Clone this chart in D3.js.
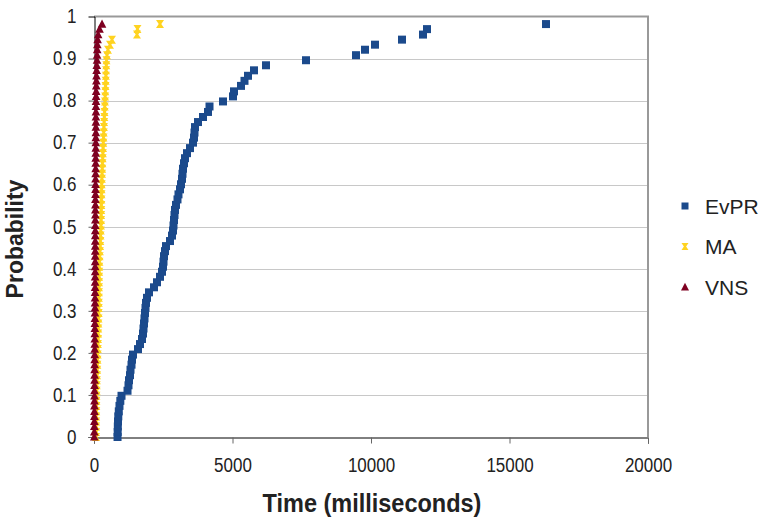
<!DOCTYPE html>
<html>
<head>
<meta charset="utf-8">
<script src="https://cdn.jsdelivr.net/npm/d3@7"></script>
<style>
  body { margin: 0; background: #fff; }
  text { font-family: 'Liberation Sans', Arial, sans-serif; fill: #222; }
</style>
</head>
<body>
<svg></svg>
<script>
// 누적 확률 (세 시리즈 공통)
const probs = [
  0, 0.012, 0.025, 0.037, 0.049, 0.061, 0.074, 0.086, 0.098, 0.110,
  0.123, 0.135, 0.147, 0.160, 0.172, 0.184, 0.196, 0.209, 0.221, 0.233,
  0.246, 0.258, 0.270, 0.282, 0.295, 0.307, 0.319, 0.331, 0.344, 0.356,
  0.368, 0.381, 0.393, 0.405, 0.417, 0.430, 0.442, 0.454, 0.466, 0.479,
  0.491, 0.503, 0.516, 0.528, 0.540, 0.552, 0.565, 0.577, 0.589, 0.601,
  0.614, 0.626, 0.638, 0.651, 0.663, 0.675, 0.687, 0.700, 0.712, 0.724,
  0.737, 0.749, 0.761, 0.773, 0.786, 0.798, 0.810, 0.822, 0.835, 0.847,
  0.859, 0.872, 0.884, 0.896, 0.908, 0.921, 0.933, 0.945, 0.957, 0.970,
  0.982
];

// 시간 (ms)
const evprTimes = [
  850, 855, 860, 866, 877, 895, 920, 950, 993, 1210,
  1245, 1263, 1300, 1318, 1354, 1372, 1408, 1588, 1660, 1733,
  1769, 1787, 1805, 1823, 1841, 1859, 1877, 1913, 1985, 2166,
  2274, 2383, 2455, 2491, 2509, 2527, 2563, 2599, 2744, 2816,
  2852, 2870, 2888, 2906, 2924, 2960, 3014, 3050, 3105, 3141,
  3177, 3195, 3213, 3249, 3285, 3357, 3466, 3574, 3610, 3628,
  3646, 3754, 3935, 4115, 4170, 4657, 5018, 5054, 5307, 5433,
  5559, 5776, 6209, 7653, 9458, 9783, 10144, 11119, 11877, 12021,
  16317
];
const maTimes = [
  72, 74, 76, 78, 80, 83, 85, 88, 90,
  95, 100, 105, 110, 116, 122, 128, 134,
  138, 143, 147, 152, 156, 160, 165, 170,
  172, 175, 177, 180, 182, 184, 186, 189, 191,
  198, 206, 214, 222, 230, 238, 246, 253,
  256, 259, 262, 266, 269, 272, 275, 278,
  285, 292, 299, 306, 314, 321, 328, 336,
  344, 351, 359, 366, 374, 382, 389, 397,
  403, 410, 417, 424, 430, 437, 444, 451,
  469, 505, 578, 650, 1552, 1570, 2383
];
const vnsTimes = [
  10, 11, 12, 13, 14, 15, 16, 17, 18,
  19, 20, 21, 22, 23, 24, 25, 26,
  27, 28, 29, 30, 31, 32, 34, 36,
  37, 38, 38, 39, 40, 40, 41, 42, 43,
  43, 44, 44, 45, 45, 46, 46, 47,
  48, 49, 50, 51, 52, 53, 55, 56,
  57, 58, 60, 61, 62, 63, 64, 65,
  66, 67, 68, 68, 69, 70, 71, 72,
  75, 78, 82, 86, 90, 95, 100, 108,
  112, 116, 120, 130, 150, 200, 290
];

const seriesNames = ['EvPR', 'MA', 'VNS'];
const xTicks = [0, 5000, 10000, 15000, 20000];
const yTicks = [0, 0.1, 0.2, 0.3, 0.4, 0.5, 0.6, 0.7, 0.8, 0.9, 1];

const width = 761;
const height = 521;
const svg = d3.select('svg').attr('width', width).attr('height', height);

const x = d3.scaleLinear().domain([0, 20000]).range([94, 648]);
const y = d3.scaleLinear().domain([0, 1]).range([437, 16.5]);

const colors = { EvPR: '#1b4a8c', MA: '#ffd320', VNS: '#7e0021' };

// 마커 모양
const markerPath = {
  EvPR: 'M-4,-4H4V4H-4Z',
  MA: 'M-4,-4H4L1.3,0L4,4H-4L-1.3,0Z',
  VNS: 'M0,-4.6L4.3,3.6H-4.3Z',
};
const legendPath = {
  EvPR: 'M-3.5,-3.5H3.5V3.5H-3.5Z',
  MA: 'M-3.5,-3.5H3.5L1.1,0L3.5,3.5H-3.5L-1.1,0Z',
  VNS: 'M0,-4.2L4,3.4H-4Z',
};

// 글자를 세로로 약간 늘림 (원본 글꼴이 좁고 높음)
const stretch = 1.15;

// 격자선
svg
  .selectAll('.grid')
  .data(yTicks.filter((d) => d > 0 && d < 1))
  .enter()
  .append('line')
  .attr('x1', x(0))
  .attr('x2', x(20000))
  .attr('y1', (d) => Math.round(y(d)) + 0.5)
  .attr('y2', (d) => Math.round(y(d)) + 0.5)
  .attr('stroke', '#c8c8c8')
  .attr('stroke-width', 1);

// 위쪽, 오른쪽 테두리
svg.append('line')
  .attr('x1', x(0)).attr('x2', x(20000) + 1)
  .attr('y1', y(1)).attr('y2', y(1))
  .attr('stroke', '#999').attr('stroke-width', 2);
svg.append('line')
  .attr('x1', x(20000)).attr('x2', x(20000))
  .attr('y1', y(1)).attr('y2', y(0))
  .attr('stroke', '#999').attr('stroke-width', 2);

// 축
const xAxis = svg.append('g')
  .attr('transform', `translate(0,${Math.round(y(0)) + 0.5})`)
  .call(d3.axisBottom(x).tickValues(xTicks).tickSize(6).tickPadding(12).tickFormat(d3.format('d')));
xAxis.select('.domain').attr('stroke', '#000');
xAxis.selectAll('.tick line').attr('stroke', '#666');
xAxis.selectAll('text')
  .attr('font-size', 17)
  .attr('fill', '#222')
  .attr('transform', `scale(1,${stretch})`);

const yAxis = svg.append('g')
  .attr('transform', `translate(${Math.round(x(0)) + 0.5},0)`)
  .call(d3.axisLeft(y).tickValues(yTicks).tickSize(6).tickPadding(12).tickFormat((d) => String(d)));
yAxis.select('.domain').attr('stroke', '#000');
yAxis.selectAll('.tick line').attr('stroke', '#666');
yAxis.selectAll('text')
  .attr('font-size', 17)
  .attr('fill', '#222')
  .attr('transform', `scale(1,${stretch})`);
yAxis.selectAll('.tick').filter((d) => d === 1).select('line').remove();

// 축 제목
svg.append('text')
  .attr('transform', `translate(372,512) scale(1,1.08)`)
  .attr('text-anchor', 'middle')
  .attr('font-size', 23.5)
  .attr('font-weight', 'bold')
  .text('Time (milliseconds)');

svg.append('text')
  .attr('transform', 'translate(23,239) rotate(-90) scale(1,1.08)')
  .attr('text-anchor', 'middle')
  .attr('font-size', 23)
  .attr('font-weight', 'bold')
  .text('Probability');

// 점 그리기
const seriesTimes = { EvPR: evprTimes, MA: maTimes, VNS: vnsTimes };
seriesNames.forEach((name) => {
  const pts = seriesTimes[name].map((t, i) => ({ t: t, p: probs[i] }));
  svg.append('g')
    .selectAll('path')
    .data(pts)
    .enter()
    .append('path')
    .attr('d', markerPath[name])
    .attr('transform', (d) => `translate(${x(d.t)},${y(d.p)})`)
    .attr('fill', colors[name]);
});

// 범례
const legend = svg.selectAll('.legend')
  .data(seriesNames)
  .enter()
  .append('g')
  .attr('class', 'legend')
  .attr('transform', (d, i) => `translate(685,${206 + i * 40.5})`);

legend.append('path')
  .attr('d', (d) => legendPath[d])
  .attr('fill', (d) => colors[d]);

legend.append('text')
  .attr('x', 20)
  .attr('y', 7.5)
  .attr('font-size', 21)
  .text((d) => d);
</script>
</body>
</html>
